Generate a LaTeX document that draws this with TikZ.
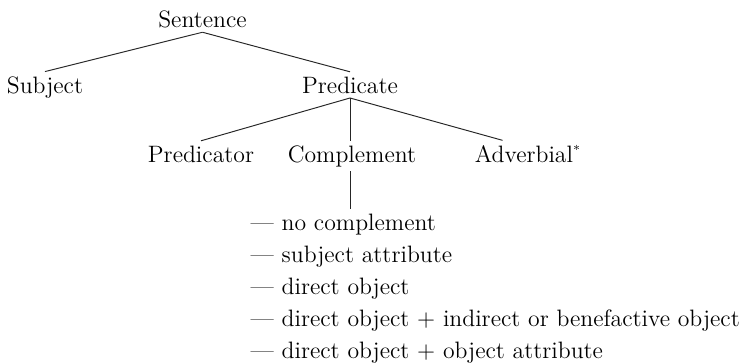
\documentclass[tikz,border=0pt]{standalone}
\usepackage{tikz}
\usetikzlibrary{positioning}

\begin{document}
\begin{tikzpicture}[
cat/.style={anchor=base,inner sep=2.5pt,font=\fontsize{13.5}{16}\selectfont},
opt/.style={cat,anchor=base west},
branch/.style={draw=black!85,line width=0.55pt}]
\useasboundingbox (0,0) rectangle (15.06,-7.26);
% tree
\node[cat] (sentence) at (4.05,-0.54) {Sentence};
\node[cat] (subject) at (0.9,-1.86) {Subject};
\node[cat] (predicate) at (7.0,-1.86) {Predicate};
\node[cat] (predicator) at (4.02,-3.24) {Predicator};
\node[cat] (complement) at (7.04,-3.24) {Complement};
\node[cat] (adverbial) at (10.55,-3.24) {Adverbial\raisebox{0.75ex}{\scriptsize *}};
% complement types
\node[opt] (none) at (4.92,-4.60) {--- no complement};
\node[opt] (subjattr) at (4.92,-5.24) {--- subject attribute};
\node[opt] (dirobj) at (4.92,-5.88) {--- direct object};
\node[opt] (indobj) at (4.92,-6.52) {--- direct object + indirect or benefactive object};
\node[opt] (objattr) at (4.92,-7.16) {--- direct object + object attribute};
\draw[branch] (sentence.south)--(subject.north);
\draw[branch] (sentence.south)--(predicate.north);
\draw[branch] (predicate.south)--(predicator.north);
\draw[branch] (predicate.south)--(predicate.south|-complement.north);
\draw[branch] (predicate.south)--([xshift=-0.5cm]adverbial.north);
\draw[branch] (complement.south-|predicate.south)--(none.north-|predicate.south);
\end{tikzpicture}
\end{document}
